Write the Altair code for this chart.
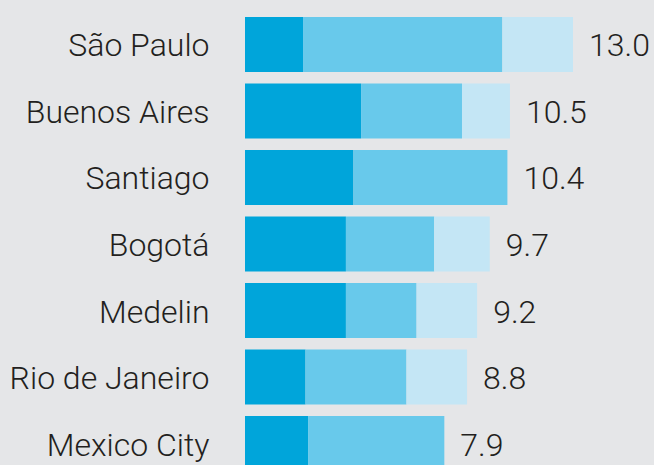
import altair as alt
import pandas as pd

cities = ["São Paulo", "Buenos Aires", "Santiago", "Bogotá", "Medelin", "Rio de Janeiro", "Mexico City"]
seg1 = [2.3, 4.6, 4.3, 4.0, 4.0, 2.4, 2.5]
seg2 = [7.9, 4.0, 6.1, 3.5, 2.8, 4.0, 5.4]
seg3 = [2.8, 1.9, 0.0, 2.2, 2.4, 2.4, 0.0]
totals = [13.0, 10.5, 10.4, 9.7, 9.2, 8.8, 7.9]
segments = ["s1", "s2", "s3"]
colors = ["#00a5da", "#68c9eb", "#c4e6f5"]

rows = []
for i, c in enumerate(cities):
    for k, vals in enumerate([seg1, seg2, seg3]):
        rows.append({"city": c, "segment": segments[k], "order": k, "value": vals[i]})
df = pd.DataFrame(rows)
tot = pd.DataFrame({"city": cities, "total": totals})

FONT = "Roboto"
TXT = "#231f20"
FS = 32

yscale = alt.Scale(domain=cities, range=[17, 471], paddingInner=0.173, paddingOuter=0)
xscale = alt.Scale(domain=[0, 16.21], nice=False, zero=True)

bars = alt.Chart(df).mark_bar(size=55).encode(
    y=alt.Y("city:N", scale=yscale, sort=cities,
            axis=alt.Axis(title=None, ticks=False, domain=False, labelFontSize=FS,
                          labelFont=FONT, labelFontWeight=300, labelColor=TXT,
                          labelPadding=36, labelLimit=400, labelOffset=2)),
    x=alt.X("value:Q", scale=xscale, stack="zero", axis=None),
    color=alt.Color("segment:N", scale=alt.Scale(domain=segments, range=colors), legend=None),
    order=alt.Order("order:Q"),
)

labels = alt.Chart(tot).mark_text(align="left", baseline="middle", dx=16, dy=2, fontSize=FS,
                                  font=FONT, fontWeight=300, color=TXT).encode(
    y=alt.Y("city:N", scale=yscale, sort=cities),
    x=alt.X("total:Q", scale=xscale),
    text=alt.Text("total:Q", format=".1f"),
)

chart = alt.layer(bars, labels).properties(
    width=409, height=465,
    autosize=alt.AutoSizeParams(type="none"),
    padding={"left": 245, "top": 0, "right": 0, "bottom": 0},
    background="#e5e6e8",
).configure_view(stroke=None)

chart.save("out.html", embed_options={"renderer": "svg", "actions": False})
